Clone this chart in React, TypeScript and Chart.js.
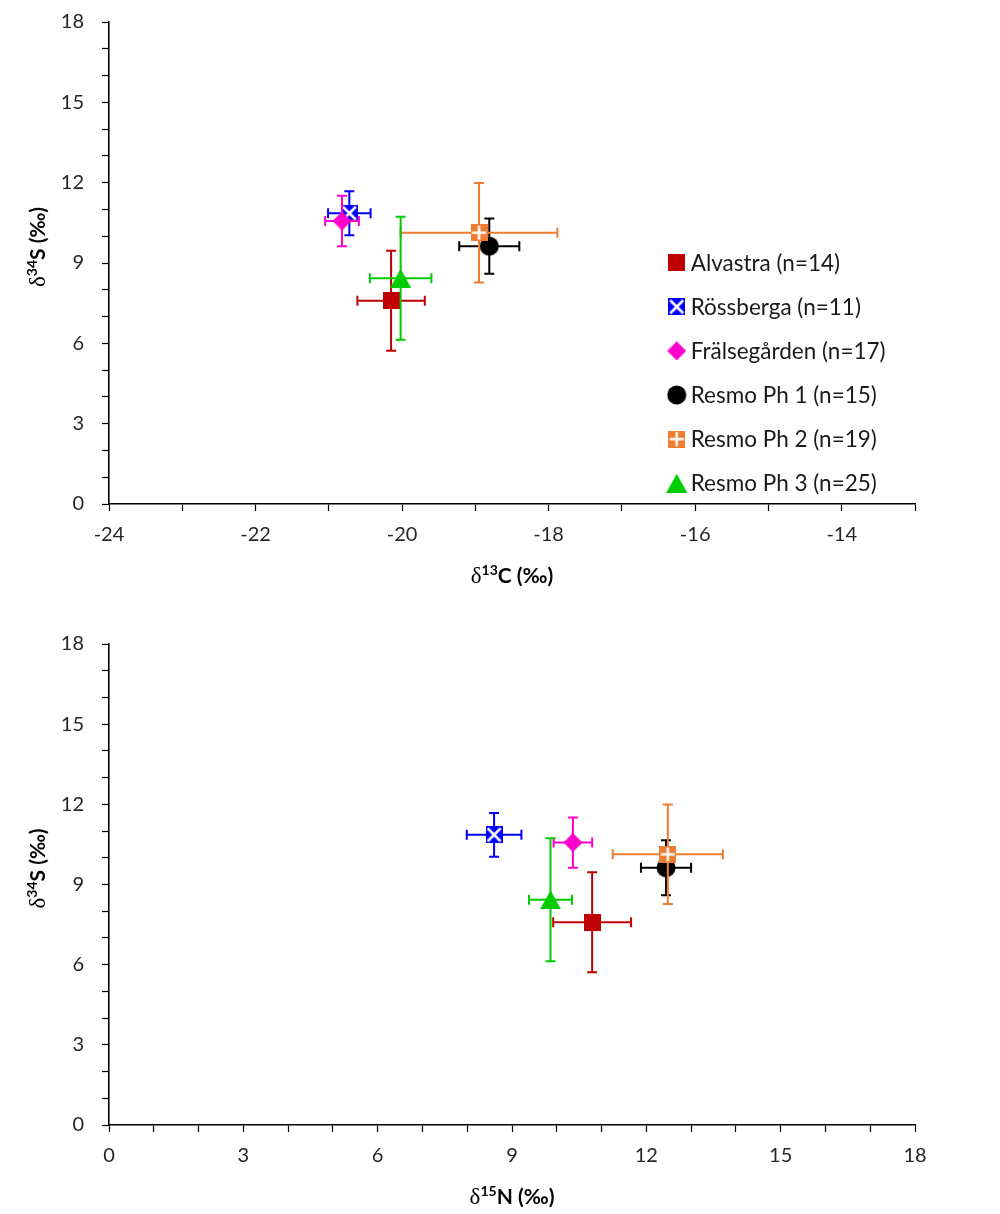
import React, { useEffect, useRef } from "react";
import { Chart, registerables } from "chart.js";

Chart.register(...registerables);

// ---------- data ----------
const groups = [
  "Alvastra (n=14)",
  "Rössberga (n=11)",
  "Frälsegården (n=17)",
  "Resmo Ph 1 (n=15)",
  "Resmo Ph 2 (n=19)",
  "Resmo Ph 3 (n=25)",
];
const d13C = [-20.15, -20.72, -20.82, -18.81, -18.95, -20.02];
const d13C_sd = [0.46, 0.29, 0.23, 0.41, 1.07, 0.42];
const d15N = [10.79, 8.6, 10.36, 12.44, 12.48, 9.86];
const d15N_sd = [0.87, 0.61, 0.43, 0.56, 1.23, 0.48];
const d34S = [7.59, 10.86, 10.57, 9.63, 10.13, 8.43];
const d34S_sd = [1.87, 0.82, 0.94, 1.03, 1.86, 2.3];

const xTicksTop = { min: -24, max: -13, labelEvery: 2 };
const xTicksBottom = { min: 0, max: 18, labelEvery: 3 };
const yTicks = { min: 0, max: 18, labelEvery: 3 };

// ---------- styles ----------
const colors = ["#C00000", "#0000FF", "#FF00CC", "#000000", "#ED7D31", "#00CC00"];
const kinds = ["square", "squareX", "diamond", "circle", "squarePlus", "triangle"];
const FONT = "Lato, 'Noto Sans', sans-serif";
const TICK_COLOR = "#262626";

function makeMarker(kind: string, color: string): HTMLCanvasElement {
  const c = document.createElement("canvas");
  let w = 17, h = 17;
  if (kind === "circle") { w = 20; h = 20; }
  if (kind === "triangle") { w = 21; h = 19; }
  if (kind === "diamond") { w = 19; h = 19; }
  c.width = w; c.height = h;
  const ctx = c.getContext("2d")!;
  ctx.fillStyle = color;
  if (kind === "square" || kind === "squareX" || kind === "squarePlus") {
    ctx.fillRect(0, 0, w, h);
    ctx.strokeStyle = "#ffffff";
    ctx.lineWidth = 2.5;
    ctx.beginPath();
    if (kind === "squareX") {
      ctx.moveTo(2, 2); ctx.lineTo(w - 2, h - 2);
      ctx.moveTo(w - 2, 2); ctx.lineTo(2, h - 2);
    } else if (kind === "squarePlus") {
      ctx.moveTo(w / 2, 1.5); ctx.lineTo(w / 2, h - 1.5);
      ctx.moveTo(1.5, h / 2); ctx.lineTo(w - 1.5, h / 2);
    }
    ctx.stroke();
  } else if (kind === "circle") {
    ctx.beginPath();
    ctx.arc(w / 2, h / 2, 9.5, 0, Math.PI * 2);
    ctx.fill();
  } else if (kind === "triangle") {
    ctx.beginPath();
    ctx.moveTo(w / 2, 0);
    ctx.lineTo(w, h);
    ctx.lineTo(0, h);
    ctx.closePath();
    ctx.fill();
  } else if (kind === "diamond") {
    ctx.beginPath();
    ctx.moveTo(w / 2, 0);
    ctx.lineTo(w, h / 2);
    ctx.lineTo(w / 2, h);
    ctx.lineTo(0, h / 2);
    ctx.closePath();
    ctx.fill();
  }
  return c;
}

function drawRich(
  ctx: CanvasRenderingContext2D,
  parts: { t: string; f: string; dy: number }[],
  cx: number,
  cy: number,
  rotate: boolean
) {
  ctx.save();
  ctx.translate(cx, cy);
  if (rotate) ctx.rotate(-Math.PI / 2);
  ctx.textBaseline = "alphabetic";
  ctx.textAlign = "left";
  ctx.fillStyle = "#000";
  let total = 0;
  const widths = parts.map((p) => {
    ctx.font = p.f;
    const w = ctx.measureText(p.t).width;
    total += w;
    return w;
  });
  let x = -total / 2;
  parts.forEach((p, i) => {
    ctx.font = p.f;
    ctx.fillText(p.t, x, 7 + p.dy);
    x += widths[i];
  });
  ctx.restore();
}

function titleParts(sym: string, sup: string, rest: string) {
  return [
    { t: sym, f: "23px 'Liberation Serif', serif", dy: 0 },
    { t: sup, f: `bold 14px ${FONT}`, dy: -8 },
    { t: rest, f: `bold 21px ${FONT}`, dy: 0 },
  ];
}

type PanelProps = {
  xs: number[];
  xsd: number[];
  xt: { min: number; max: number; labelEvery: number };
  xTitle: { sup: string; rest: string };
  height: number;
  top: number;
  areaTop: number;
  areaBottom: number;
  legend: boolean;
};

function Panel(props: PanelProps) {
  const ref = useRef<HTMLCanvasElement>(null);
  useEffect(() => {
    const markers = kinds.map((k, i) => makeMarker(k, colors[i]));
    const datasets = groups.map((g, i) => ({
      label: g,
      data: [{ x: props.xs[i], y: d34S[i] }],
      xErr: props.xsd[i],
      yErr: d34S_sd[i],
      pointStyle: markers[i],
      pointRadius: 9,
      borderColor: colors[i],
      backgroundColor: colors[i],
      order: groups.length - 1 - i,
    }));

    const errorBars = {
      id: "errorBars",
      beforeDatasetDraw(chart: any, args: any) {
        const ds = chart.data.datasets[args.index];
        const ctx = chart.ctx;
        const xs = chart.scales.x;
        const ys = chart.scales.y;
        const p = ds.data[0];
        const cx = xs.getPixelForValue(p.x);
        const cy = ys.getPixelForValue(p.y);
        const x1 = xs.getPixelForValue(p.x - ds.xErr);
        const x2 = xs.getPixelForValue(p.x + ds.xErr);
        const y1 = ys.getPixelForValue(p.y - ds.yErr);
        const y2 = ys.getPixelForValue(p.y + ds.yErr);
        const cap = 5;
        ctx.save();
        ctx.strokeStyle = ds.borderColor;
        ctx.lineWidth = 2;
        ctx.beginPath();
        ctx.moveTo(x1, cy); ctx.lineTo(x2, cy);
        ctx.moveTo(x1, cy - cap); ctx.lineTo(x1, cy + cap);
        ctx.moveTo(x2, cy - cap); ctx.lineTo(x2, cy + cap);
        ctx.moveTo(cx, y1); ctx.lineTo(cx, y2);
        ctx.moveTo(cx - cap, y1); ctx.lineTo(cx + cap, y1);
        ctx.moveTo(cx - cap, y2); ctx.lineTo(cx + cap, y2);
        ctx.stroke();
        ctx.restore();
      },
    };

    const titles = {
      id: "titles",
      afterDraw(chart: any) {
        const ctx = chart.ctx;
        const a = chart.chartArea;
        drawRich(ctx, titleParts("δ", "34", "S (‰)"), 38, (a.top + a.bottom) / 2 - 16, true);
        drawRich(ctx, titleParts("δ", props.xTitle.sup, props.xTitle.rest), (a.left + a.right) / 2, a.bottom + 72, false);
        if (props.legend) {
          const mx = 676.7, tx = 690.7, y0 = a.top + 240.7, dy = 44.1;
          ctx.save();
          ctx.font = `22.5px ${FONT}`;
          ctx.fillStyle = "#1a1a1a";
          ctx.textBaseline = "middle";
          ctx.textAlign = "left";
          groups.forEach((g, i) => {
            const cy = y0 + i * dy;
            const m = markers[i];
            ctx.drawImage(m, mx - m.width / 2, cy - m.height / 2);
            ctx.fillText(g, tx, cy + 1);
          });
          ctx.restore();
        }
      },
    };

    const tickFont = { family: FONT, size: 20 };
    const chart = new Chart(ref.current!, {
      type: "scatter",
      data: { datasets: datasets as any },
      options: {
        animation: false,
        responsive: false,
        layout: { padding: { left: 0, right: 85, top: props.areaTop, bottom: 0 } },
        plugins: { legend: { display: false }, tooltip: { enabled: false } },
        scales: {
          x: {
            type: "linear",
            min: props.xt.min,
            max: props.xt.max,
            afterFit: (s: any) => { s.height = props.height - props.areaBottom; },
            ticks: {
              stepSize: 1,
              autoSkip: false,
              maxRotation: 0,
              padding: 12,
              color: TICK_COLOR,
              font: tickFont,
              callback: (v: any) => (Math.round(v) % props.xt.labelEvery === 0 ? String(v) : ""),
            },
            grid: { drawOnChartArea: false, drawTicks: true, tickLength: 7, tickColor: "#000", tickWidth: 1.2 },
            border: { color: "#000", width: 1.6 },
          },
          y: {
            type: "linear",
            min: yTicks.min,
            max: yTicks.max,
            afterFit: (s: any) => { s.width = 109; },
            ticks: {
              stepSize: 1,
              autoSkip: false,
              padding: 18,
              color: TICK_COLOR,
              font: tickFont,
              callback: (v: any) => (Math.round(v) % yTicks.labelEvery === 0 ? String(v) : ""),
            },
            grid: { drawOnChartArea: false, drawTicks: true, tickLength: 7, tickColor: "#000", tickWidth: 1.2 },
            border: { color: "#000", width: 1.6 },
          },
        },
      },
      plugins: [errorBars, titles],
    });
    return () => chart.destroy();
  }, []);
  return (
    <canvas
      ref={ref}
      width={1000}
      height={props.height}
      style={{ position: "absolute", left: 0, top: props.top, width: 1000, height: props.height }}
    />
  );
}

export default function App() {
  return (
    <div style={{ position: "absolute", left: 0, top: 0, width: 1000, height: 1214, background: "#fff" }}>
      <Panel
        xs={d13C}
        xsd={d13C_sd}
        xt={xTicksTop}
        xTitle={{ sup: "13", rest: "C (‰)" }}
        height={622}
        top={-15}
        areaTop={37}
        areaBottom={519}
        legend={true}
      />
      <Panel
        xs={d15N}
        xsd={d15N_sd}
        xt={xTicksBottom}
        xTitle={{ sup: "15", rest: "N (‰)" }}
        height={607}
        top={607}
        areaTop={37}
        areaBottom={518}
        legend={false}
      />
    </div>
  );
}
